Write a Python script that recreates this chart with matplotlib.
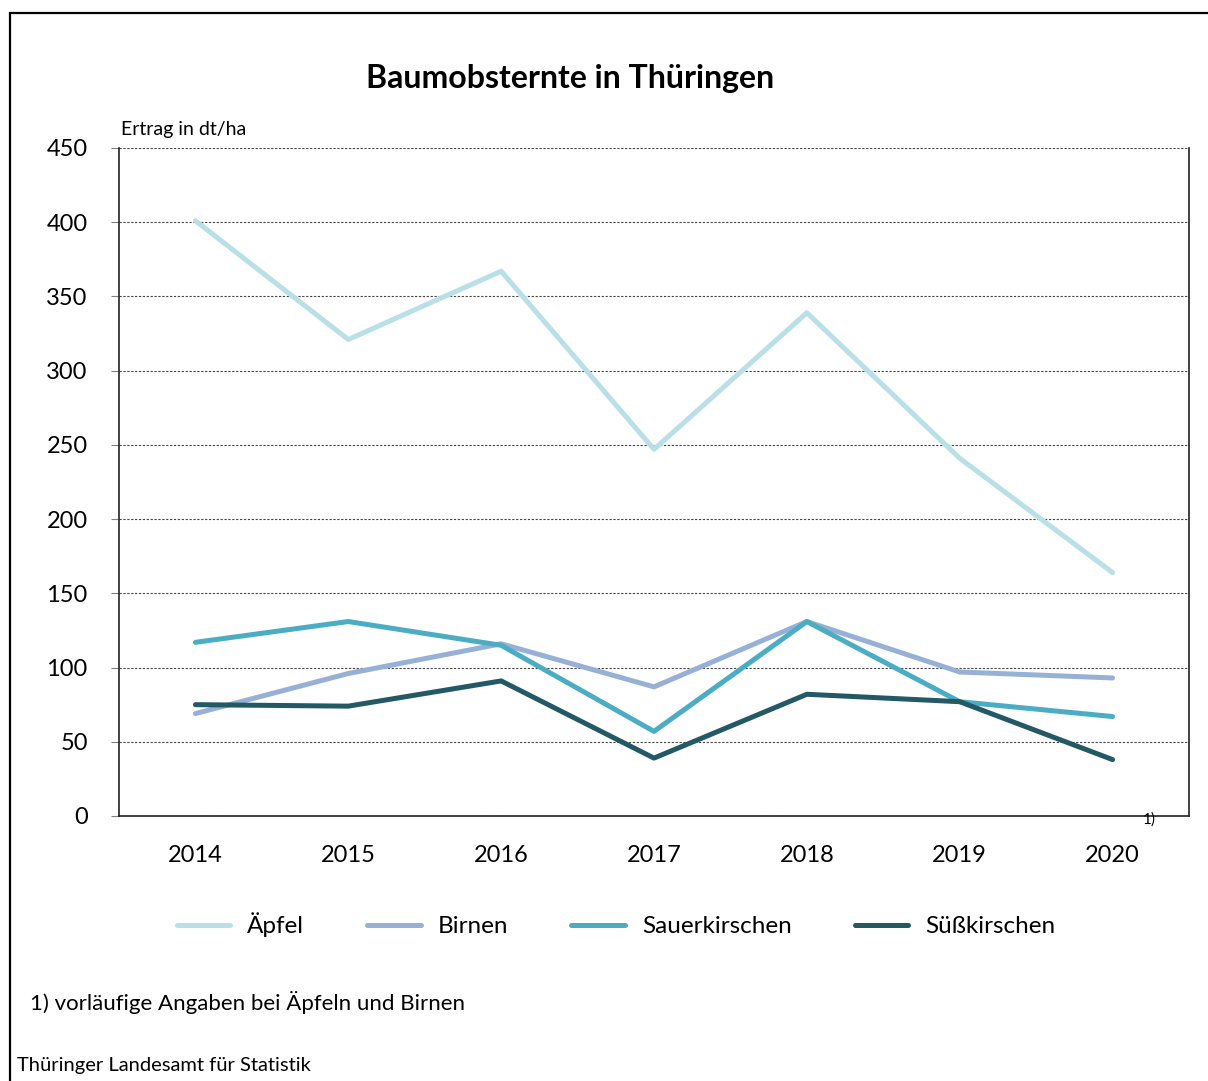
import matplotlib.pyplot as plt
from matplotlib.patches import Rectangle

plt.rcParams['font.family'] = ['Lato', 'DejaVu Sans']

jahre = ['2014', '2015', '2016', '2017', '2018', '2019', '2020']
aepfel = [401, 321, 367, 247, 339, 241, 164]
birnen = [69, 96, 116, 87, 131, 97, 93]
sauerkirschen = [117, 131, 115, 57, 131, 77, 67]
suesskirschen = [75, 74, 91, 39, 82, 77, 38]

namen = ['Äpfel', 'Birnen', 'Sauerkirschen', 'Süßkirschen']
farben = ['#b9dfe7', '#97b1d6', '#4aadc4', '#225965']

W, H = 1208, 1081
fig = plt.figure(figsize=(W / 100, H / 100), dpi=100)

# Rahmen um das ganze Bild (rechts/unten abgeschnitten)
fig.patches.append(Rectangle((10 / W, -0.1), 1.2, 1 - 13 / H + 0.1, transform=fig.transFigure,
                             fill=False, edgecolor='black', linewidth=1.6))

ax = fig.add_axes([119 / W, 1 - 816 / H, (1189 - 119) / W, (816 - 148) / H])

x = range(len(jahre))
for werte, name, farbe in zip([aepfel, birnen, sauerkirschen, suesskirschen], namen, farben):
    ax.plot(x, werte, color=farbe, linewidth=3.6, solid_capstyle='round', label=name)

ax.set_xlim(-0.5, 6.5)
ax.set_ylim(0, 450)
ax.set_yticks(range(0, 451, 50))
ax.set_xticks(list(x))
ax.set_xticklabels(jahre)
ax.tick_params(axis='x', length=0, pad=21, labelsize=17)
ax.tick_params(axis='y', length=6, color='#808080', labelsize=17, pad=16.5)
ax.yaxis.grid(True, linestyle=(0, (2, 1.5)), color='#444444', linewidth=0.8)
ax.set_axisbelow(True)
ax.spines['top'].set_visible(False)
for s in ['left', 'right', 'bottom']:
    ax.spines[s].set_linewidth(1.2)
    ax.spines[s].set_color('#222222')

fig.text(570 / W, 1 - 78 / H, 'Baumobsternte in Thüringen', ha='center', va='center',
         fontsize=23, fontweight='bold')
fig.text(121 / W, 1 - 130 / H, 'Ertrag in dt/ha', ha='left', va='center', fontsize=14)
fig.text(1143 / W, 1 - 820 / H, '1)', ha='left', va='center', fontsize=11)

fig.legend(loc='center', bbox_to_anchor=(616 / W, 1 - 925 / H), ncol=4, frameon=False,
           fontsize=17.5, handlelength=2.2, handletextpad=0.7, columnspacing=2.6)

fig.text(30 / W, 1 - 1003 / H, '1) vorläufige Angaben bei Äpfeln und Birnen', ha='left',
         va='center', fontsize=16)
fig.text(17 / W, 1 - 1066 / H, 'Thüringer Landesamt für Statistik', ha='left', va='center',
         fontsize=14.5)

fig.savefig('out.png', dpi=100)
